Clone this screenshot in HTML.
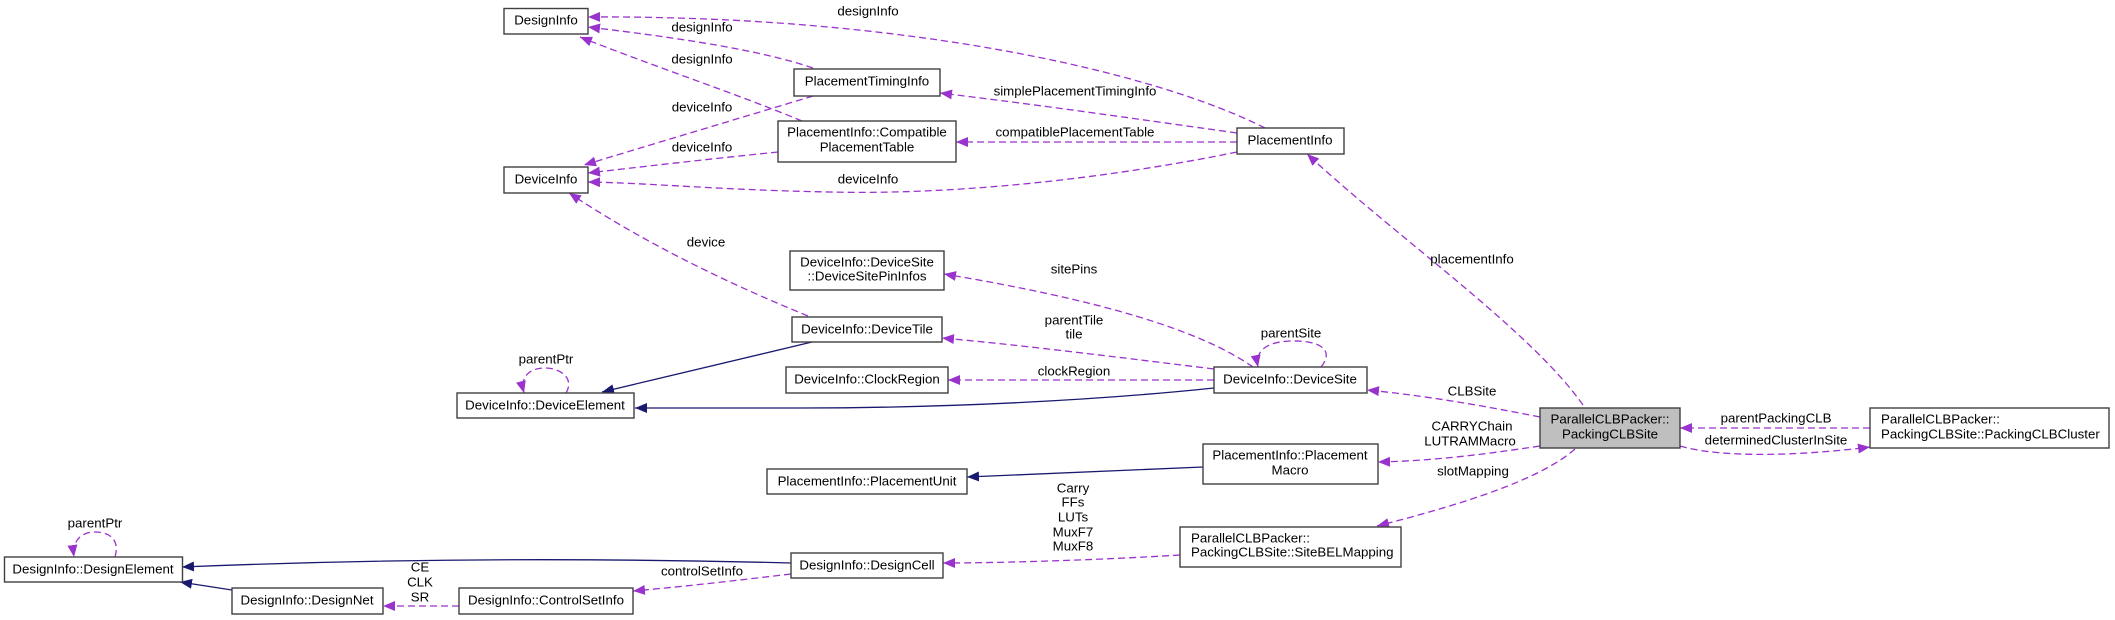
<!DOCTYPE html>
<html><head><meta charset="utf-8"><style>
html,body{margin:0;padding:0;background:#fff;}
svg{display:block;}
text{font-family:"Liberation Sans",Arial,sans-serif;font-size:13.3px;fill:#000;}
.b{fill:#fff;stroke:#404040;stroke-width:1.4;}
.d{fill:none;stroke:#9a32cd;stroke-width:1.3;stroke-dasharray:7,4;marker-end:url(#mp);}
.n{fill:none;stroke:#191970;stroke-width:1.3;marker-end:url(#mb);}
</style></head><body>
<svg width="2115" height="620" viewBox="0 0 2115 620" xmlns="http://www.w3.org/2000/svg">
<defs>
<marker id="mp" markerUnits="userSpaceOnUse" markerWidth="13" markerHeight="10" refX="12" refY="5" orient="auto"><path d="M0,0 L12,5 L0,10 z" fill="#9a32cd"/></marker>
<marker id="mb" markerUnits="userSpaceOnUse" markerWidth="13" markerHeight="10" refX="12" refY="5" orient="auto"><path d="M0,0 L12,5 L0,10 z" fill="#191970"/></marker>
</defs>

<!-- edges -->
<path class="d" d="M1265,128 C1150,70 900,15 588,17"/>
<path class="d" d="M813,68 C760,50 680,38 588,27"/>
<path class="d" d="M802,121 C740,95 650,65 580,37"/>
<path class="d" d="M813,96 C740,118 650,145 584,165"/>
<path class="d" d="M778,152 C700,160 640,167 588,173"/>
<path class="d" d="M1237,152 C1100,180 950,195 830,192 C720,190 650,183 588,182"/>
<path class="d" d="M1237,133 C1130,118 1040,105 940,93"/>
<path class="d" d="M1237,142 L956,142"/>
<path class="d" d="M1583,405 C1530,330 1400,240 1307,154"/>
<path class="d" d="M808,316 C720,280 640,240 569,193"/>
<path class="d" d="M1253,367 C1200,330 1100,300 944,274"/>
<path class="d" d="M1214,369 C1100,355 1020,345 942,338"/>
<path class="d" d="M1214,380 L948,380"/>
<path class="d" d="M1321,367 C1335,350 1320,340 1290,341 C1265,342 1255,352 1258,367"/>
<path class="n" d="M1214,388 C1100,400 950,408 800,408 L635,408"/>
<path class="n" d="M812,342 L602,392"/>
<path class="d" d="M566,393 C575,378 560,368 545,368 C528,368 520,378 524,393"/>
<path class="d" d="M1540,417 C1480,405 1420,395 1367,390"/>
<path class="n" d="M1203,467 L967,477"/>
<path class="d" d="M1540,446 C1480,455 1430,461 1378,462"/>
<path class="d" d="M1575,449 C1540,480 1460,505 1377,526"/>
<path class="d" d="M1180,555 C1100,560 1000,563 943,563"/>
<path class="n" d="M791,563 C600,558 400,558 182,567"/>
<path class="d" d="M791,574 C740,580 690,586 633,591"/>
<path class="n" d="M232,590 L180,582"/>
<path class="d" d="M115,557 C120,540 110,532 95,532 C80,532 72,542 74,557"/>
<path class="d" d="M459,606 L383,606"/>
<path class="d" d="M1870,428 L1680,428"/>
<path class="d" d="M1680,446 C1720,458 1800,456 1870,447"/>

<!-- edge labels -->
<g text-anchor="middle" dominant-baseline="middle">
<text x="868" y="12">designInfo</text>
<text x="702" y="28">designInfo</text>
<text x="702" y="60">designInfo</text>
<text x="702" y="108">deviceInfo</text>
<text x="702" y="148">deviceInfo</text>
<text x="868" y="180">deviceInfo</text>
<text x="1075" y="92">simplePlacementTimingInfo</text>
<text x="1075" y="133">compatiblePlacementTable</text>
<text x="1472" y="260">placementInfo</text>
<text x="706" y="243">device</text>
<text x="1074" y="270">sitePins</text>
<text x="1074" y="321">parentTile</text>
<text x="1074" y="335">tile</text>
<text x="1291" y="334">parentSite</text>
<text x="1074" y="372">clockRegion</text>
<text x="546" y="360">parentPtr</text>
<text x="1472" y="392">CLBSite</text>
<text x="1472" y="427">CARRYChain</text>
<text x="1470" y="442">LUTRAMMacro</text>
<text x="1473" y="472">slotMapping</text>
<text x="1073" y="489">Carry</text>
<text x="1073" y="503">FFs</text>
<text x="1073" y="518">LUTs</text>
<text x="1073" y="533">MuxF7</text>
<text x="1073" y="547">MuxF8</text>
<text x="702" y="572">controlSetInfo</text>
<text x="95" y="524">parentPtr</text>
<text x="420" y="568">CE</text>
<text x="420" y="583">CLK</text>
<text x="420" y="598">SR</text>
<text x="1776" y="419">parentPackingCLB</text>
<text x="1776" y="441">determinedClusterInSite</text>
</g>

<!-- nodes -->
<g text-anchor="middle" dominant-baseline="middle">
<rect class="b" x="504" y="8.5" width="84" height="25.5"/><text x="546" y="21">DesignInfo</text>
<rect class="b" x="504" y="167" width="84" height="26"/><text x="546" y="180">DeviceInfo</text>
<rect class="b" x="794" y="69" width="146" height="27"/><text x="867" y="82">PlacementTimingInfo</text>
<rect class="b" x="778" y="121" width="178" height="41"/><text x="867" y="133">PlacementInfo::Compatible</text><text x="867" y="148">PlacementTable</text>
<rect class="b" x="1237" y="128" width="107" height="26"/><text x="1290" y="141">PlacementInfo</text>
<rect class="b" x="790" y="251" width="154" height="39"/><text x="867" y="263">DeviceInfo::DeviceSite</text><text x="867" y="277">::DeviceSitePinInfos</text>
<rect class="b" x="792" y="317" width="150" height="25"/><text x="867" y="330">DeviceInfo::DeviceTile</text>
<rect class="b" x="786" y="367" width="162" height="26"/><text x="867" y="380">DeviceInfo::ClockRegion</text>
<rect class="b" x="1214" y="367" width="153" height="26"/><text x="1290" y="380">DeviceInfo::DeviceSite</text>
<rect class="b" x="457" y="393" width="177" height="25"/><text x="545" y="406">DeviceInfo::DeviceElement</text>
<rect class="b" x="1203" y="444" width="175" height="40"/><text x="1290" y="456">PlacementInfo::Placement</text><text x="1290" y="471">Macro</text>
<rect class="b" x="767" y="469" width="200" height="25"/><text x="867" y="482">PlacementInfo::PlacementUnit</text>
<rect class="b" x="791" y="553" width="152" height="25"/><text x="867" y="566">DesignInfo::DesignCell</text>
<rect class="b" x="4.5" y="557" width="178" height="25"/><text x="93" y="570">DesignInfo::DesignElement</text>
<rect class="b" x="232" y="588" width="151" height="26"/><text x="307" y="601">DesignInfo::DesignNet</text>
<rect class="b" x="459" y="588" width="174" height="26"/><text x="546" y="601">DesignInfo::ControlSetInfo</text>
<rect x="1540" y="408" width="140" height="40" fill="#bfbfbf" stroke="#404040" stroke-width="1.4"/><text x="1610" y="420">ParallelCLBPacker::</text><text x="1610" y="435">PackingCLBSite</text>
</g>
<g dominant-baseline="middle">
<rect class="b" x="1180" y="527" width="221" height="40"/><text x="1191" y="539">ParallelCLBPacker::</text><text x="1191" y="553">PackingCLBSite::SiteBELMapping</text>
<rect class="b" x="1870" y="408" width="239" height="40"/><text x="1881" y="420">ParallelCLBPacker::</text><text x="1881" y="435">PackingCLBSite::PackingCLBCluster</text>
</g>
</svg>
</body></html>
